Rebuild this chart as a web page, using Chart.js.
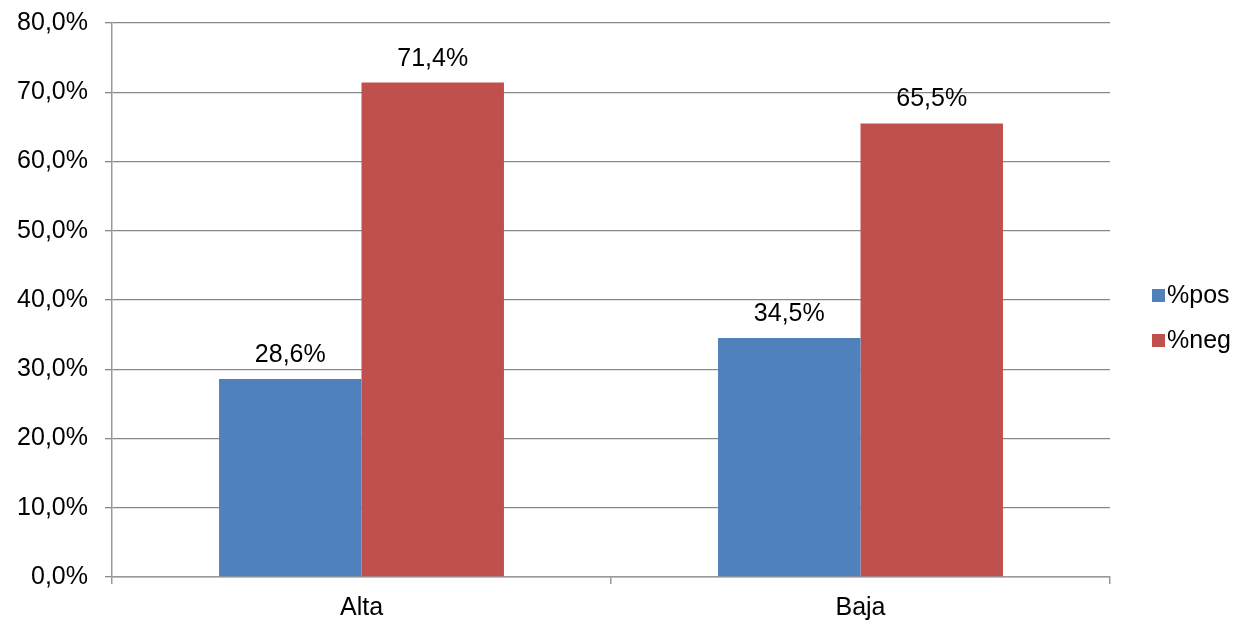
<!DOCTYPE html>
<html>
<head>
<meta charset="utf-8">
<script src="https://cdn.jsdelivr.net/npm/chart.js@4"></script>
<style>
  html, body { margin: 0; padding: 0; background: #fff; }
  #wrap { width: 1245px; height: 623px; }
</style>
</head>
<body>
<div id="wrap"><canvas id="chart" width="1245" height="623"></canvas></div>
<script>
const categories = ['Alta', 'Baja'];
const seriesNames = ['%pos', '%neg'];
const posValues = [28.6, 34.5];
const negValues = [71.4, 65.5];
const seriesColors = ['#4F81BD', '#C0504D'];

const FONT = 'Liberation Sans, Arial, sans-serif';
const FONT_SIZE = 25;
const fmt = v => v.toFixed(1).replace('.', ',') + '%';

// value labels above each bar
const barLabels = {
  id: 'barLabels',
  afterDatasetsDraw(chart) {
    const ctx = chart.ctx;
    ctx.save();
    ctx.font = FONT_SIZE + 'px ' + FONT;
    ctx.fillStyle = '#000';
    ctx.textAlign = 'center';
    ctx.textBaseline = 'alphabetic';
    chart.data.datasets.forEach((ds, i) => {
      chart.getDatasetMeta(i).data.forEach((bar, j) => {
        ctx.fillText(fmt(ds.data[j]), bar.x, bar.y - 17);
      });
    });
    ctx.restore();
  }
};

// legend at the right, square markers
const sideLegend = {
  id: 'sideLegend',
  afterDraw(chart) {
    const ctx = chart.ctx;
    ctx.save();
    ctx.font = FONT_SIZE + 'px ' + FONT;
    ctx.textBaseline = 'middle';
    chart.data.datasets.forEach((ds, i) => {
      const y = 295.5 + i * 45;
      ctx.fillStyle = ds.backgroundColor;
      ctx.fillRect(1152, y - 6.5, 13, 13);
      ctx.fillStyle = '#000';
      ctx.fillText(ds.label, 1167, y + 1);
    });
    ctx.restore();
  }
};

new Chart(document.getElementById('chart'), {
  type: 'bar',
  data: {
    labels: categories,
    datasets: [
      { label: seriesNames[0], data: posValues, backgroundColor: seriesColors[0] },
      { label: seriesNames[1], data: negValues, backgroundColor: seriesColors[1] }
    ]
  },
  options: {
    responsive: false,
    animation: false,
    layout: { padding: { left: 0, top: 23, right: 135, bottom: 0 } },
    datasets: { bar: { categoryPercentage: 0.571, barPercentage: 1.0 } },
    plugins: { legend: { display: false }, tooltip: { enabled: false } },
    scales: {
      x: {
        afterFit: s => { s.height = 46; },
        grid: { offset: true, drawOnChartArea: false, color: '#999', lineWidth: 1.5, tickLength: 7 },
        border: { color: '#999', width: 1.5 },
        ticks: { color: '#000', font: { family: FONT, size: FONT_SIZE }, padding: 9 }
      },
      y: {
        min: 0, max: 80,
        afterFit: s => { s.width = 112; s.paddingTop = 0; s.paddingBottom = 0; },
        grid: { color: '#888', lineWidth: 1.3, tickLength: 7 },
        border: { color: '#999', width: 1.5 },
        ticks: { stepSize: 10, color: '#000', font: { family: FONT, size: FONT_SIZE, lineHeight: 0.5 }, padding: 17, callback: v => fmt(v) }
      }
    }
  },
  plugins: [barLabels, sideLegend]
});
</script>
</body>
</html>
